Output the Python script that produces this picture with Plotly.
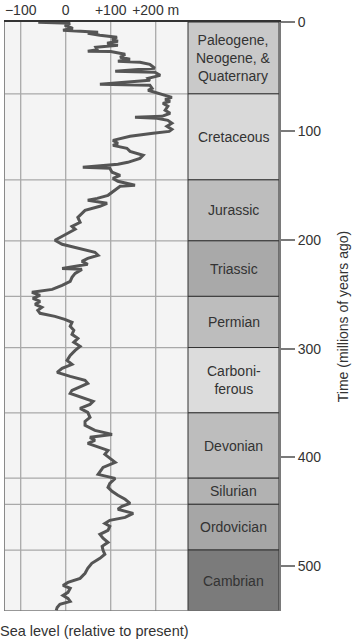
import plotly.graph_objects as go

# Sea-level curve: time (Ma) and sea level (m relative to present)
time_ma = [0.3, 1.2, 3, 5.8, 7.6, 9, 9.3, 10.4, 12.2, 14, 15.9, 17.7, 19.6, 21.4, 23.2, 25.5, 26.9, 27.2,
           29.7, 32.4, 34.3, 36, 37, 38.9, 42.5, 45.3, 46.2, 49, 51.7, 53.6, 57.2, 58.1, 61, 62.7,
           66.4, 69.2, 71, 72.8, 74.7, 77.4, 81, 83.8, 86.6, 87.6, 88.5, 90.3, 93, 95.8, 98.6, 100.5,
           102.2, 105, 108.7, 111.4, 113.3, 116, 118.8, 122.4, 125.2, 128.9, 130.7, 133.5, 134.4,
           138, 140.8, 143.6, 146.3, 150, 150.9, 154.6, 159.2, 162, 163.8, 166.5, 169.3, 173, 175.7,
           179.4, 184, 187.7, 190.4, 194.1, 197.8, 200.5, 204.2, 207.9, 211.5, 214.3, 217.1, 219.8,
           222.6, 226.3, 227.2, 230.9, 234.5, 238.2, 241.9, 245.6, 248.3, 251.1, 253.8, 256.6, 259.3,
           262.1, 264.8, 267.6, 270.4, 273.1, 275.9, 279.5, 283.2, 286.9, 290.6, 294.2, 297.9, 301.6,
           306.2, 310.8, 314.4, 318.1, 321.8, 325.5, 329.1, 331.9, 335.6, 338.3, 341.1, 344.8, 348.4,
           351.2, 354.9, 358.5, 363.1, 366.8, 370.5, 375.1, 378.8, 381.5, 384.3, 387, 390.7, 393.5,
           397.1, 400.8, 404.5, 409.1, 412.7, 415.5, 419.2, 423.7, 427.4, 431.1, 434.7, 438.4, 442.1,
           444.9, 447.6, 451.3, 455, 457.7, 460.5, 463.2, 466.9, 470.6, 474.2, 477.9, 481.6, 485.3,
           488.9, 492.6, 497.2, 501.8, 506.4, 511, 514.7, 517.5, 520.2, 523.9, 526.7, 529.4, 532.2,
           534.9, 537.7, 540.5]
sea_level_m = [-61, 10, -2, 16, -6, 72, 72, 49, 76, 114, 103, 116, 92, 116, 67, 70, 49, 100,
               132, 121, 143, 116, 165, 187, 198, 110, 198, 210, 183, 187, 76, 187, 192, 183,
               214, 236, 221, 232, 216, 227, 221, 232, 214, 154, 203, 227, 236, 225, 236, 230,
               194, 143, 105, 116, 105, 136, 143, 172, 165, 138, 116, 38, 98,
               103, 121, 105, 116, 154, 121, 110, 94, 70, 49, 92, 76, 43, 36,
               27, 32, 14, 21, 5, -13, -24, -8, 27, 65, 72, 49, 36,
               49, -8, 36, 21, 14, 10, -8, -30, -75, -57, -73, -57, -68,
               -53, -62, -57, -24, -2, 14, 10, 18, 14, 27, 18, 32, 21,
               10, 3, 14, -8, -19, 10, 43, 49, 27, 14, 10, 38, 61,
               54, 32, 49, 54, 43, 43, 65, 103, 54, 65, 49, 76, 94,
               87, 98, 110, 83, 76, 72, 110, 98, 94, 103, 116, 132, 143,
               125, 116, 150, 132, 98, 87, 98, 94, 76, 83, 94, 81, 83,
               87, 76, 58, 49, 43, 32, 5, -6, 10, 5, -6, 5, 10,
               -13, -19, -21]

# Geologic periods
period_names = ["Paleogene,<br>Neogene, &<br>Quaternary", "Cretaceous", "Jurassic", "Triassic",
                "Permian", "Carboni-<br>ferous", "Devonian", "Silurian", "Ordovician", "Cambrian"]
period_start = [0, 66, 145, 201, 252, 299, 359, 419, 443, 485]
period_end = [66, 145, 201, 252, 299, 359, 419, 443, 485, 541]
period_colors = ["#c9c9c9", "#d9d9d9", "#bdbdbd", "#a9a9a9", "#bdbdbd", "#dcdcdc",
                 "#bdbdbd", "#b2b2b2", "#a6a6a6", "#7b7b7b"]

x_ticks = [-100, 0, 100, 200]
x_ticktext = ["\u2212100", "0", "+100", "+200 m"]
y_ticks = [0, 100, 200, 300, 400, 500]

X_MIN, X_PANEL, X_MAX = -137.1, 271.8, 474.0
Y_BOTTOM = 541

FONT = "Liberation Sans, Arial, sans-serif"
TXT = "#333333"
GRID = "#a9a9a9"

fig = go.Figure()
fig.add_trace(go.Scatter(x=sea_level_m, y=time_ma, mode="lines",
                         line=dict(color="#555555", width=3), hoverinfo="skip"))

shapes = []
# vertical grid lines at the sea-level ticks
for v in x_ticks:
    shapes.append(dict(type="line", xref="x", yref="y", x0=v, x1=v, y0=0, y1=Y_BOTTOM,
                       line=dict(color=GRID, width=1.3), layer="below"))
# horizontal lines at period boundaries in the line panel
for b in period_start[1:]:
    shapes.append(dict(type="line", xref="x", yref="y", x0=X_MIN, x1=X_PANEL, y0=b, y1=b,
                       line=dict(color=GRID, width=1.3), layer="below"))
# period boxes
for s, e, c in zip(period_start, period_end, period_colors):
    shapes.append(dict(type="rect", xref="x", yref="y", x0=X_PANEL, x1=X_MAX, y0=s, y1=e,
                       fillcolor=c, line=dict(color="#333333", width=1), layer="above"))
# left and bottom frame
shapes.append(dict(type="line", xref="x", yref="y", x0=X_MIN, x1=X_MIN, y0=0, y1=Y_BOTTOM,
                   line=dict(color="#8a8a8a", width=2), layer="above"))
shapes.append(dict(type="line", xref="x", yref="y", x0=X_MIN, x1=X_MAX, y0=Y_BOTTOM, y1=Y_BOTTOM,
                   line=dict(color="#7a7a7a", width=1.5), layer="above"))

annotations = []
for name, s, e in zip(period_names, period_start, period_end):
    annotations.append(dict(x=(X_PANEL + X_MAX) / 2, y=(s + e) / 2, xref="x", yref="y",
                            text=name, showarrow=False,
                            font=dict(family=FONT, size=14, color=TXT)))
annotations.append(dict(x=0, y=0, xref="paper", yref="paper", xanchor="left", yanchor="top",
                        xshift=-6, yshift=-10, text="Sea level (relative to present)",
                        showarrow=False, font=dict(family=FONT, size=14.5, color=TXT)))

fig.update_layout(
    width=352, height=640,
    margin=dict(l=4, r=73, t=22, b=29),
    paper_bgcolor="white", plot_bgcolor="#f4f4f4",
    showlegend=False,
    shapes=shapes, annotations=annotations,
    font=dict(family=FONT, size=14, color=TXT),
    xaxis=dict(range=[X_MIN, X_MAX], side="top", tickvals=x_ticks, ticktext=x_ticktext,
               showgrid=False, zeroline=False, ticks="",
               showline=True, linecolor="#333333", linewidth=1.5,
               tickfont=dict(family=FONT, size=14, color=TXT),
               automargin=False, fixedrange=True),
    yaxis=dict(range=[Y_BOTTOM, 0], side="right", tickvals=y_ticks,
               showgrid=False, zeroline=False,
               ticks="outside", ticklen=14, tickcolor="#7a7a7a", tickwidth=1.5,
               showline=True, linecolor="#7a7a7a", linewidth=2,
               tickfont=dict(family=FONT, size=14, color=TXT),
               title=dict(text="Time (millions of years ago)", standoff=18,
                          font=dict(family=FONT, size=14, color=TXT)),
               automargin=False, fixedrange=True),
)

fig.write_html("out.html")
